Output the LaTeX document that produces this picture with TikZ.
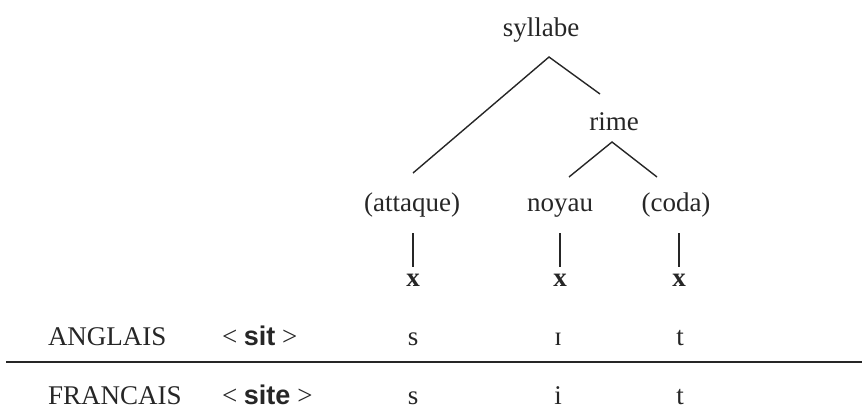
\documentclass[tikz,border=0pt]{standalone}
\usepackage{fontspec}
\setmainfont{Liberation Serif}
\newfontfamily\sansfont{Liberation Sans}
\begin{document}
\begin{tikzpicture}[x=1pt,y=-1pt,
    every node/.style={inner sep=0pt,outer sep=0pt,anchor=base,text=black!85,
      font=\fontsize{27}{32}\selectfont},
    lbl/.style={anchor=base west},
    branch/.style={draw=black!85,line width=1.4pt},
    rule/.style={draw=black!85,line width=2pt}]
  \useasboundingbox (0,0) rectangle (862,410);

  % tree labels
  \node (syl)  at (541,36)  {syllabe};
  \node (rime) at (614,130) {rime};
  \node (att)  at (412,211) {(attaque)};
  \node (noy)  at (560,211) {noyau};
  \node (coda) at (676,211) {(coda)};

  % skeleton slots
  \node (xa) at (413,286) {\bfseries x};
  \node (xn) at (560,286) {\bfseries x};
  \node (xc) at (679,286) {\bfseries x};

  % branch end points
  \coordinate (sylA) at (549,57);
  \coordinate (attT) at (413,173);
  \coordinate (rimT) at (600,94);
  \coordinate (rimA) at (612,142);
  \coordinate (noyT) at (569,177);
  \coordinate (codT) at (657,177);
  \coordinate (attB) at (413,233);
  \coordinate (xaT)  at (413,267);
  \coordinate (noyB) at (560,233);
  \coordinate (xnT)  at (560,267);
  \coordinate (codB) at (679,233);
  \coordinate (xcT)  at (679,267);

  \draw[branch] (attT) -- (sylA) -- (rimT);
  \draw[branch] (noyT) -- (rimA) -- (codT);
  \draw[branch] (attB) -- (xaT);
  \draw[branch] (noyB) -- (xnT);
  \draw[branch] (codB) -- (xcT);

  % English row
  \node[lbl] (en)   at (48,345)  {ANGLAIS};
  \node[lbl] (enw)  at (222,345) {< {\sansfont\bfseries sit} >};
  \node (ens) at (413,345) {s};
  \node (eni) at (558,345) {ɪ};
  \node (ent) at (680,345) {t};

  % separator
  \coordinate (rl) at (6,362);
  \coordinate (rr) at (862,362);
  \draw[rule] (rl) -- (rr);

  % French row
  \node[lbl] (fr)   at (48,404)  {FRANCAIS};
  \node[lbl] (frw)  at (222,404) {< {\sansfont\bfseries site} >};
  \node (frs) at (413,404) {s};
  \node (fri) at (558,404) {i};
  \node (frt) at (680,404) {t};
\end{tikzpicture}
\end{document}
